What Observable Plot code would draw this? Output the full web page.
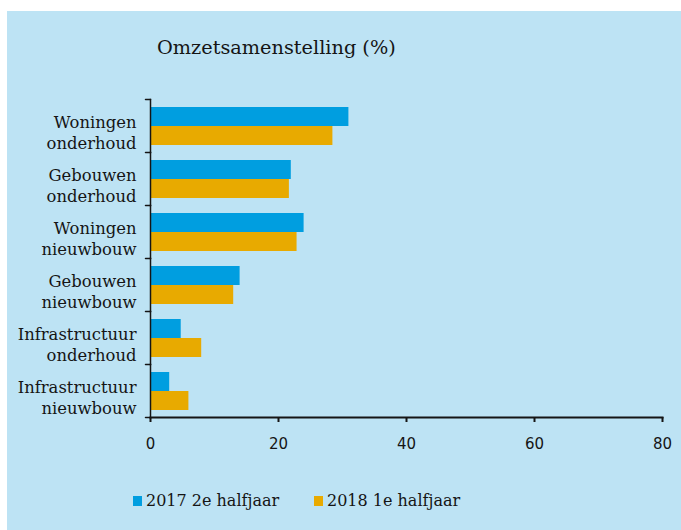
<!DOCTYPE html>
<html>
<head>
<meta charset="utf-8">
<script src="https://cdn.jsdelivr.net/npm/d3@7"></script>
<script src="https://cdn.jsdelivr.net/npm/@observablehq/plot@0.6"></script>
<style>
  html, body { margin: 0; padding: 0; background: #ffffff; }
  #panel { position: absolute; left: 7px; top: 11px; width: 674px; height: 519px; background: #bde3f4; overflow: hidden; }
  #title { position: absolute; left: 150px; top: 27px; font-family: "DejaVu Serif"; font-size: 19.3px; line-height: 19px; color: #151515; white-space: nowrap; }
  #chart { position: absolute; left: 0; top: 69px; }
  #legend { position: absolute; left: 0; top: 480px; width: 674px; height: 24px; }
  .item { position: absolute; top: 0; display: flex; align-items: center; font-family: "DejaVu Serif"; font-size: 16px; color: #151515; white-space: nowrap; }
  .sw { width: 9px; height: 10px; margin-right: 4px; }
</style>
</head>
<body>
<div id="panel">
  <div id="title"></div>
  <div id="chart"></div>
  <div id="legend"></div>
</div>
<script>
const title = "Omzetsamenstelling (%)";
const categories = [
  "Woningen\nonderhoud",
  "Gebouwen\nonderhoud",
  "Woningen\nnieuwbouw",
  "Gebouwen\nnieuwbouw",
  "Infrastructuur\nonderhoud",
  "Infrastructuur\nnieuwbouw"
];
const series = ["2017 2e halfjaar", "2018 1e halfjaar"];
const values2017 = [31, 22, 24, 14, 4.8, 3];
const values2018 = [28.5, 21.7, 22.9, 13, 8, 6];
const xTicks = [0, 20, 40, 60, 80];
const colors = ["#009ee0", "#e8aa00"];

const data = categories.flatMap((c, i) => [
  {cat: c, series: series[0], value: values2017[i]},
  {cat: c, series: series[1], value: values2018[i]}
]);

document.getElementById("title").textContent = title;

const chart = Plot.plot({
  width: 674,
  height: 373,
  marginLeft: 143,
  marginRight: 19,
  marginTop: 17,
  marginBottom: 35,
  style: {background: "transparent", fontFamily: "DejaVu Sans", fontSize: "15px", color: "#151515", overflow: "visible"},
  x: {domain: [0, 80], label: null},
  y: {domain: series, axis: null, paddingInner: 0, paddingOuter: 0.39},
  fy: {domain: categories, axis: null, padding: 0},
  color: {domain: series, range: colors},
  marks: [
    Plot.barX(data, {fy: "cat", y: "series", x: "value", fill: "series"}),
    Plot.frame({anchor: "left", stroke: "#151515", strokeWidth: 1.5}),
    Plot.frame({anchor: "bottom", facetAnchor: "bottom", stroke: "#151515", strokeWidth: 2}),
    Plot.vector(categories, {fy: d => d, frameAnchor: "top-left", shape: "spike", r: 0, length: 5, rotate: -90, anchor: "start", stroke: "#151515", strokeWidth: 1.5}),
    Plot.vector(categories.slice(-1), {fy: d => d, frameAnchor: "bottom-left", shape: "spike", r: 0, length: 5, rotate: -90, anchor: "start", stroke: "#151515", strokeWidth: 1.5}),
    Plot.text(categories, {fy: d => d, text: d => d, frameAnchor: "left", textAnchor: "end", dx: -14, dy: 6, lineHeight: 1.24, fontFamily: "DejaVu Serif", fontSize: 16.4, fill: "#151515"}),
    Plot.axisX({ticks: xTicks, tickSize: 5, tickPadding: 16, strokeWidth: 2, label: null, fontSize: 15, stroke: "#151515"})
  ]
});
document.getElementById("chart").appendChild(chart);

const legend = document.getElementById("legend");
const legendLeft = [126, 307];
series.forEach((s, i) => {
  const item = document.createElement("div");
  item.className = "item";
  item.style.left = legendLeft[i] + "px";
  const sw = document.createElement("span");
  sw.className = "sw";
  sw.style.background = colors[i];
  const lab = document.createElement("span");
  lab.textContent = s;
  item.appendChild(sw);
  item.appendChild(lab);
  legend.appendChild(item);
});
</script>
</body>
</html>
